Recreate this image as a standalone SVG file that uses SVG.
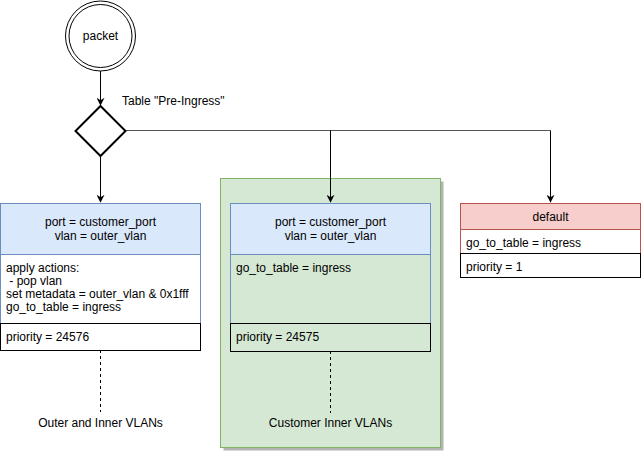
<svg xmlns="http://www.w3.org/2000/svg" width="641" height="452" viewBox="0 0 641 452">
<style>
text{font-family:"Liberation Sans",Arial,sans-serif;font-size:12px;fill:#000}
.c{text-anchor:middle}
.edge{fill:none;stroke:#000;stroke-width:1}
.dash{fill:none;stroke:#000;stroke-width:1;stroke-dasharray:3 3}
.hb{fill:#dae8fc;stroke:#6c8ebf}
.bb{fill:#fff;stroke:#6c8ebf}
.pr{fill:#fff;stroke:#000}
</style>
<defs>
<marker id="arr" viewBox="0 0 10 10" refX="9" refY="5" markerWidth="8" markerHeight="8" markerUnits="userSpaceOnUse" orient="auto">
<path d="M0,0 L10,5 L0,10 L3,5 Z" fill="#000"/>
</marker>
</defs>
<g id="group-customer-inner">
<rect x="223.5" y="181.5" width="220" height="269" fill="#b3b3b3"/>
<rect x="220.5" y="178.5" width="220" height="269" fill="#d5e8d4" stroke="#82b366"/>
</g>
<g id="connectors">
<path class="edge" d="M100.5,71 V105" marker-end="url(#arr)"/>
<path class="edge" d="M100.5,156 V202" marker-end="url(#arr)"/>
<path d="M126,130.5 H550.5" stroke="#555" fill="none"/>
<path class="edge" d="M330.5,130.5 V202" marker-end="url(#arr)"/>
<path class="edge" d="M550.5,130.5 V202" marker-end="url(#arr)"/>
<path class="dash" d="M100.5,350 V412"/>
<path class="dash" d="M330.5,351 V413"/>
</g>
<g id="packet">
<circle cx="100.5" cy="36" r="35" fill="#fff" stroke="#000"/>
<circle cx="100.5" cy="36" r="31.5" fill="#fff" stroke="#000"/>
<text x="100.5" y="40" class="c">packet</text>
</g>
<g id="pre-ingress">
<path d="M100.5,106 L125.5,131 L100.5,156 L75.5,131 Z" fill="#fff" stroke="#000" stroke-width="2"/>
<text x="122" y="105">Table "Pre-Ingress"</text>
</g>
<g id="rule-outer-inner">
<rect x="0.5" y="203.5" width="200" height="51" class="hb"/>
<text x="100.5" y="226" class="c">port = customer_port</text>
<text x="100.5" y="240" class="c">vlan = outer_vlan</text>
<rect x="0.5" y="254.5" width="200" height="69" class="bb"/>
<text x="6" y="272">apply actions:</text>
<text x="6" y="285" xml:space="preserve"> - pop vlan</text>
<text x="6" y="298">set metadata = outer_vlan &amp; 0x1fff</text>
<text x="6" y="311">go_to_table = ingress</text>
<rect x="0.5" y="323.5" width="200" height="27" class="pr"/>
<text x="6" y="341">priority = 24576</text>
</g>
<g id="label-outer-inner">
<text x="100.5" y="427" class="c">Outer and Inner VLANs</text>
</g>
<g id="rule-customer-inner">
<rect x="230.5" y="203.5" width="200" height="51" class="hb"/>
<text x="330.5" y="226" class="c">port = customer_port</text>
<text x="330.5" y="240" class="c">vlan = outer_vlan</text>
<rect x="230.5" y="254.5" width="200" height="69" fill="none" stroke="#6c8ebf"/>
<text x="236" y="272">go_to_table = ingress</text>
<rect x="230.5" y="323.5" width="200" height="28" fill="none" stroke="#000"/>
<text x="236" y="341">priority = 24575</text>
</g>
<g id="label-customer-inner">
<text x="330.5" y="427" class="c">Customer Inner VLANs</text>
</g>
<g id="rule-default">
<rect x="460.5" y="203.5" width="180" height="26" fill="#f8cecc" stroke="#b85450"/>
<text x="550.5" y="221" class="c">default</text>
<rect x="460.5" y="229.5" width="180" height="24" fill="#fff" stroke="#b85450"/>
<text x="466" y="247">go_to_table = ingress</text>
<rect x="460.5" y="253.5" width="180" height="24" class="pr"/>
<text x="466" y="271">priority = 1</text>
</g>
</svg>
